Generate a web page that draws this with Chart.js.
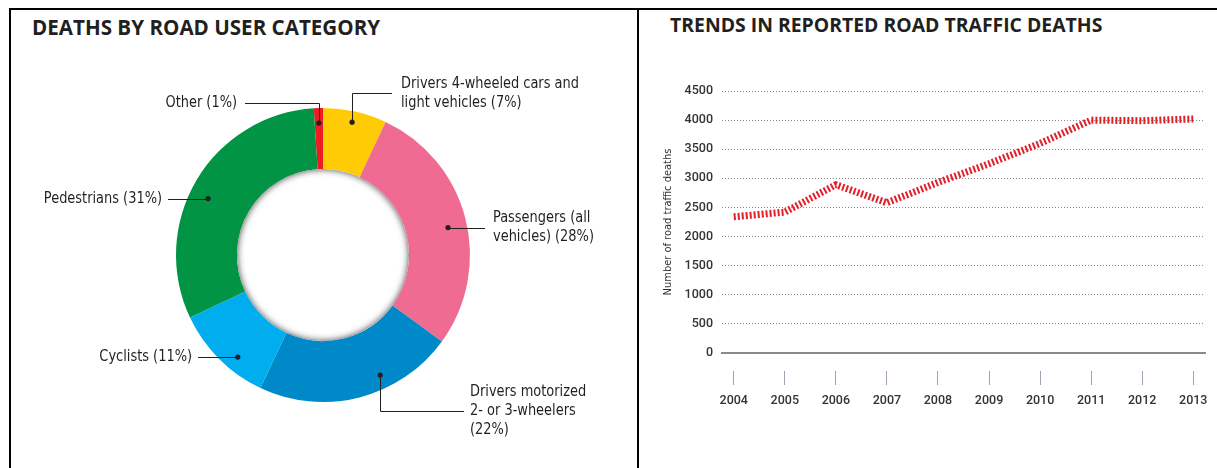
<!DOCTYPE html>
<html><head><meta charset="utf-8">
<script src="https://cdn.jsdelivr.net/npm/chart.js@4.4.0/dist/chart.umd.min.js"></script>
<style>
html,body{margin:0;padding:0;background:#fff;width:1217px;height:468px;overflow:hidden;position:relative;}
.ln{position:absolute;background:#000;}
.title{position:absolute;font-family:"Open Sans",sans-serif;font-weight:700;color:#231f20;white-space:nowrap;line-height:1;}
#c1{position:absolute;left:11px;top:40px;}
#c2{position:absolute;left:640px;top:40px;}
</style></head><body>
<div class="ln" style="left:9px;top:8px;width:1208px;height:2px"></div>
<div class="ln" style="left:9px;top:8px;width:2px;height:460px"></div>
<div class="ln" style="left:637px;top:8px;width:2px;height:460px"></div>
<div class="title" id="t1" style="left:32px;top:17px;font-size:20.6px">DEATHS BY ROAD USER CATEGORY</div>
<div class="title" id="t2" style="left:670px;top:15px;font-size:19.4px">TRENDS IN REPORTED ROAD TRAFFIC DEATHS</div>
<canvas id="c1" width="624" height="428"></canvas>
<canvas id="c2" width="577" height="428"></canvas>
<script>
// ---- data ----
const categories = ["Other", "Drivers 4-wheeled cars and light vehicles", "Passengers (all vehicles)", "Drivers motorized 2- or 3-wheelers", "Cyclists", "Pedestrians"];
const shares = [1, 7, 28, 22, 11, 31];
const labelLines = [
  ["Other (1%)"],
  ["Drivers 4-wheeled cars and", "light vehicles (7%)"],
  ["Passengers (all", "vehicles) (28%)"],
  ["Drivers motorized", "2- or 3-wheelers", "(22%)"],
  ["Cyclists (11%)"],
  ["Pedestrians (31%)"]
];
const years = [2004, 2005, 2006, 2007, 2008, 2009, 2010, 2011, 2012, 2013];
const deaths = [2340, 2420, 2890, 2580, 2930, 3250, 3600, 4000, 3990, 4020];
const yTickValues = [0, 500, 1000, 1500, 2000, 2500, 3000, 3500, 4000, 4500];

// ---- styles ----
const sliceColors = ["#ED1C24", "#FFCB05", "#F06B91", "#0089C9", "#00AEEF", "#009444"];

function pickFont(list, weight) {
  const c = document.createElement('canvas').getContext('2d');
  const t = 'abcdefghijklmnopqrstuvwxyzABCDEFGH0123456789';
  c.font = (weight || '') + ' 40px monospace';
  const base = c.measureText(t).width;
  for (const f of list) {
    c.font = (weight || '') + ' 40px "' + f + '", monospace';
    if (Math.abs(c.measureText(t).width - base) > 0.5) return f;
  }
  return 'sans-serif';
}
const NARROW = pickFont(["Liberation Sans Narrow", "DejaVu Sans Condensed", "Roboto Condensed", "Roboto"]);

// label layout (relative to doughnut centre, px)
const leaderLayout = [
  {frac: 0.5,  r: 132, kind: 'v', lineY: -152, endX: -78, textX: -86, align: 'right'},
  {frac: 0.49, r: 136, kind: 'v', lineY: -162, endX: 69,  textX: 78,  align: 'left'},
  {frac: 0.52, r: 128, kind: 'h', endX: 162,  textX: 170, align: 'left'},
  {frac: 0.36, r: 133, kind: 'v', lineY: 156, endX: 141, textX: 147, align: 'left'},
  {frac: 0.37, r: 133, kind: 'h', endX: -125, textX: -131, align: 'right'},
  {frac: 0.46, r: 128, kind: 'h', endX: -155, textX: -161, align: 'right'}
];

const innerShadow = {
  id: 'innerShadow',
  afterDatasetsDraw(chart) {
    const arc = chart.getDatasetMeta(0).data[0];
    if (!arc) return;
    const {x, y, innerRadius} = arc.getProps(['x', 'y', 'innerRadius'], true);
    const ctx = chart.ctx;
    ctx.save();
    ctx.beginPath(); ctx.arc(x, y, innerRadius, 0, Math.PI * 2); ctx.clip();
    ctx.shadowColor = 'rgba(0,0,0,0.75)';
    ctx.shadowBlur = 7;
    ctx.lineWidth = 12; ctx.strokeStyle = '#fff';
    ctx.beginPath(); ctx.arc(x, y, innerRadius + 6, 0, Math.PI * 2); ctx.stroke();
    ctx.restore();
  }
};

const TEXT_SQUEEZE = 0.9;
const leaderLabels = {
  id: 'leaderLabels',
  afterDraw(chart) {
    const ctx = chart.ctx;
    const meta = chart.getDatasetMeta(0);
    ctx.save();
    ctx.font = '16px "' + NARROW + '"';
    ctx.fillStyle = '#231f20';
    ctx.strokeStyle = '#231f20';
    ctx.lineWidth = 1;
    const lh = 19;
    meta.data.forEach((arc, i) => {
      const L = leaderLayout[i];
      const p = arc.getProps(['x', 'y', 'startAngle', 'endAngle'], true);
      const a = p.startAngle + L.frac * (p.endAngle - p.startAngle);
      const dx = p.x + L.r * Math.cos(a), dy = p.y + L.r * Math.sin(a);
      let ly;
      ctx.beginPath();
      if (L.kind === 'v') {
        ly = p.y + L.lineY;
        ctx.moveTo(Math.round(dx) + 0.5, dy);
        ctx.lineTo(Math.round(dx) + 0.5, Math.round(ly) + 0.5);
        ctx.lineTo(p.x + L.endX, Math.round(ly) + 0.5);
      } else {
        ly = dy;
        ctx.moveTo(dx, Math.round(ly) + 0.5);
        ctx.lineTo(p.x + L.endX, Math.round(ly) + 0.5);
      }
      ctx.stroke();
      ctx.beginPath(); ctx.arc(dx, dy, 2.6, 0, Math.PI * 2); ctx.fill();
      const lines = labelLines[i];
      ctx.textAlign = L.align;
      ctx.textBaseline = 'middle';
      const y0 = ly - (lines.length - 1) * lh / 2;
      const tx = p.x + L.textX;
      lines.forEach((t, k) => {
        ctx.save();
        ctx.translate(tx, y0 + k * lh);
        ctx.scale(TEXT_SQUEEZE, 1);
        ctx.fillText(t, 0, 0);
        ctx.restore();
      });
    });
    ctx.restore();
  }
};

new Chart(document.getElementById('c1'), {
  type: 'doughnut',
  data: {labels: categories, datasets: [{data: shares, backgroundColor: sliceColors, borderWidth: 0}]},
  options: {
    responsive: false, animation: false, devicePixelRatio: 1,
    rotation: -3.6, cutout: '58.5%',
    layout: {padding: {left: 165, right: 165, top: 68, bottom: 66}},
    plugins: {legend: {display: false}, tooltip: {enabled: false}}
  },
  plugins: [innerShadow, leaderLabels]
});

const tickFont = {family: 'Roboto', size: 12.5, weight: '500'};
new Chart(document.getElementById('c2'), {
  type: 'line',
  data: {datasets: [{
    data: years.map((yr, i) => ({x: yr, y: deaths[i]})),
    borderColor: '#E2202A', borderWidth: 7, borderDash: [2, 2], borderCapStyle: 'butt',
    pointRadius: 0, tension: 0, fill: false
  }]},
  options: {
    responsive: false, animation: false, devicePixelRatio: 1,
    layout: {padding: {left: 22, right: 12, top: 51, bottom: 0}},
    plugins: {legend: {display: false}, tooltip: {enabled: false}},
    scales: {
      x: {
        type: 'linear', min: 2003.77, max: 2013.23,
        afterBuildTicks: s => { s.ticks = years.map(v => ({value: v})); },
        ticks: {callback: v => String(v), font: tickFont, color: '#333', padding: 8, maxRotation: 0, autoSkip: false},
        grid: {drawOnChartArea: false, drawTicks: true, tickLength: 32, tickColor: '#9aa5b1', tickWidth: 1, tickBorderDash: [0, 17, 15, 100]},
        border: {display: true, color: '#8a8a8a', width: 2},
        afterFit: s => { s.height = 115; }
      },
      y: {
        min: 0, max: 4500,
        afterBuildTicks: s => { s.ticks = yTickValues.map(v => ({value: v})); },
        ticks: {callback: v => String(v), font: tickFont, color: '#333', padding: 9},
        grid: {color: '#8c8c8c', lineWidth: 1, drawTicks: false, borderDash: [1, 2]},
        border: {display: false, dash: [1, 2]},
        title: {display: true, text: 'Number of road traffic deaths', font: {family: NARROW, size: 11}, color: '#333', padding: {top: 0, bottom: 0}},
        afterFit: s => { s.width = 60; }
      }
    }
  }
});
</script>
</body></html>
